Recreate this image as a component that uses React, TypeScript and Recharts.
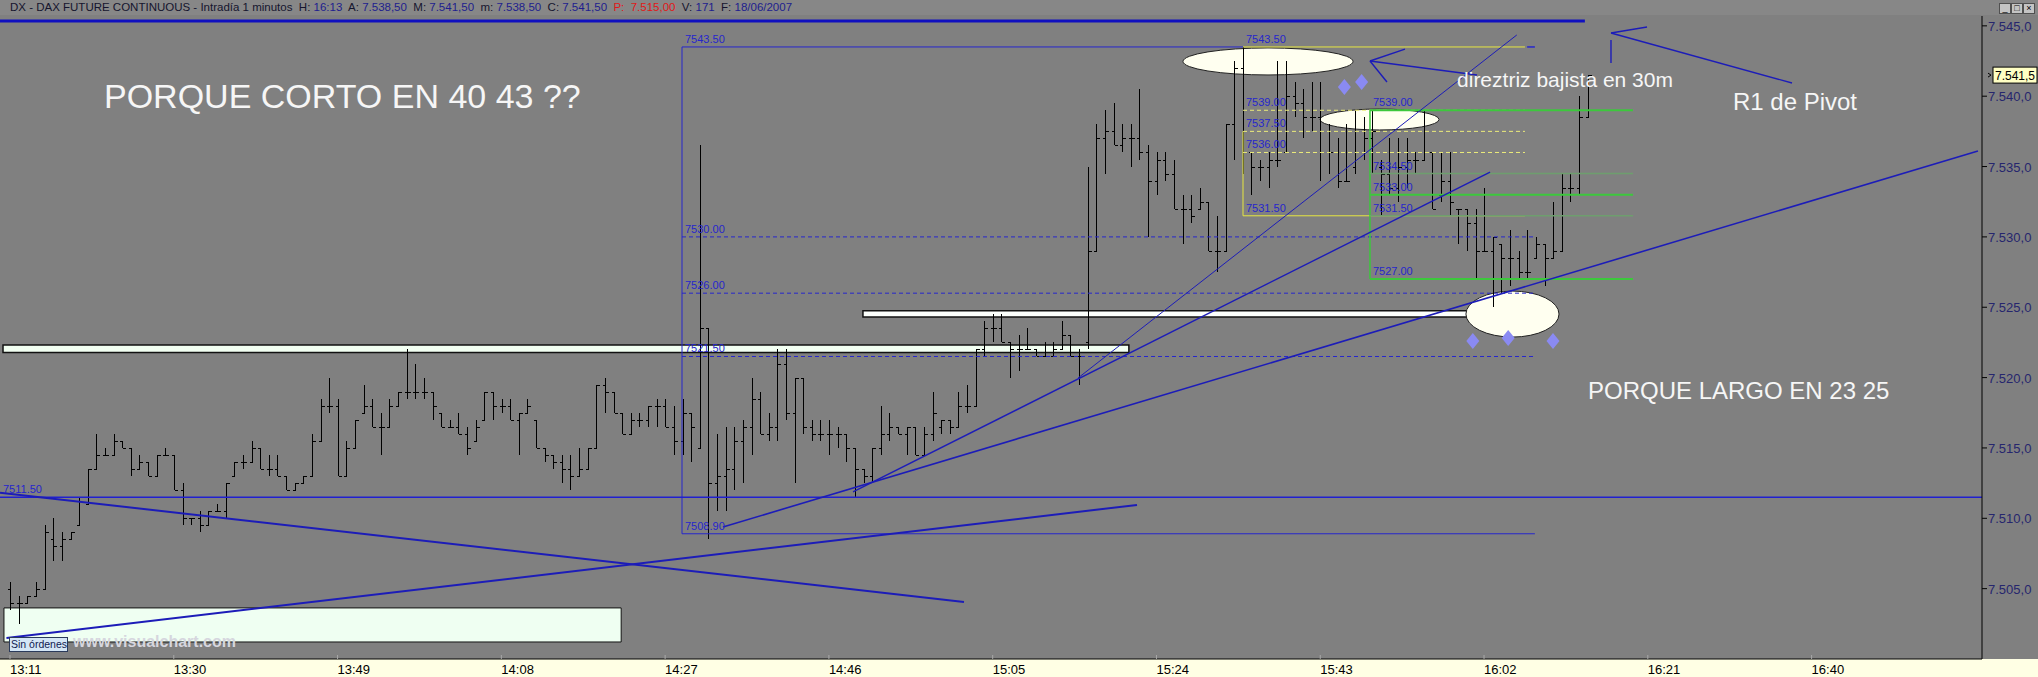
import React from "react";
import {
  ComposedChart,
  Bar,
  XAxis,
  YAxis,
  ReferenceLine,
  ReferenceArea,
  ReferenceDot,
} from "recharts";

// DAX future, 1-minute bars from 13:11 (minute 0) to 16:14
const OPEN = [
  7505, 7504, 7504, 7504.5, 7505, 7508.5, 7508, 7508.5, 7509.5, 7511, 7513.5, 7514.5, 7514.5, 7515.5, 7515, 7513.5, 7514, 7513, 7514.5, 7514.5,
  7512, 7510, 7510, 7509.5, 7510.5, 7510.5, 7513, 7514, 7514, 7515, 7513.5, 7513.5, 7513, 7512, 7512.5, 7513, 7515.5, 7518, 7518, 7513,
  7515, 7517.5, 7518, 7516.5, 7516.5, 7518, 7519, 7519, 7519, 7519, 7517.5, 7516.5, 7516.5, 7516, 7515.5, 7517, 7519, 7518, 7518, 7517,
  7517.5, 7517, 7515, 7514.5, 7514, 7513.5, 7513, 7513.5, 7515, 7519.5, 7519, 7517.5, 7516, 7517, 7517, 7518, 7518, 7516.5, 7515.5, 7517.5,
  7515, 7523.5, 7512.5, 7513, 7513.5, 7515.5, 7516.5, 7518.5, 7516, 7516.5, 7521, 7517.5, 7520, 7516.5, 7516, 7516, 7516, 7516, 7515, 7513.5,
  7513, 7515, 7516, 7516.5, 7516, 7516.5, 7514.5, 7516, 7516.5, 7517, 7516.5, 7518, 7518, 7522, 7523.5, 7523.5, 7522.5, 7522, 7522, 7522,
  7521.5, 7521.5, 7522, 7523, 7521.5, 7522.5, 7529, 7537, 7537.5, 7536.5, 7537, 7537, 7536, 7534, 7535.5, 7534.5, 7532, 7532, 7532, 7532.5,
  7529, 7529, 7538, 7542, 7536, 7535, 7535, 7535.5, 7536, 7540, 7539.5, 7538.5, 7538.5, 7536, 7536, 7534, 7535, 7536, 7537, 7535,
  7534.5, 7533.5, 7535, 7535.5, 7535.5, 7536, 7533, 7534, 7532, 7532, 7531, 7529, 7529, 7529.5, 7528.5, 7528.5, 7527.5, 7528.5, 7529.5, 7528.5,
  7529, 7533.5, 7533.5, 7538.5,
];
const HIGH = [
  7505.5, 7504.5, 7504.5, 7505.5, 7509.5, 7510, 7509, 7509, 7511.5, 7513.5, 7516, 7515, 7516, 7515.5, 7515, 7514.5, 7514, 7514.5, 7515, 7514.5,
  7512.5, 7510, 7510.5, 7510.5, 7511, 7512.5, 7514, 7514.5, 7515.5, 7515, 7514.5, 7514.5, 7513, 7512.5, 7513, 7516, 7518.5, 7520, 7518.5, 7515.5,
  7517, 7519.5, 7518.5, 7517.5, 7518.5, 7519, 7522, 7521, 7520, 7519, 7517.5, 7517, 7517.5, 7516.5, 7517, 7519, 7519, 7518.5, 7518.5, 7517.5,
  7518.5, 7517, 7515, 7514.5, 7514.5, 7514.5, 7515, 7515, 7519.5, 7520, 7519, 7517.5, 7517.5, 7517.5, 7518, 7518.5, 7518.5, 7518, 7518.5, 7517.5,
  7536.5, 7523.5, 7516, 7516.5, 7516.5, 7517, 7520, 7519, 7517.5, 7522, 7522, 7520, 7520, 7517, 7517, 7517, 7516.5, 7516, 7515, 7513.5,
  7515, 7518, 7517.5, 7516.5, 7516.5, 7516.5, 7516.5, 7519, 7517, 7517, 7519, 7519.5, 7522, 7524, 7524.5, 7524.5, 7522.5, 7523, 7523.5, 7522,
  7522.5, 7522.5, 7524, 7523, 7522, 7535, 7538, 7539, 7539.5, 7538, 7538, 7540.5, 7536.5, 7536, 7536, 7535.5, 7533, 7533, 7533.5, 7532.5,
  7531.5, 7538, 7542.5, 7543.5, 7536, 7535.5, 7536, 7542.5, 7542.5, 7541, 7540.5, 7541, 7541, 7538, 7537, 7538, 7539, 7538.5, 7539, 7535.5,
  7537, 7537, 7537, 7536, 7539, 7536, 7536, 7536, 7532, 7532, 7532, 7533.5, 7530, 7529.5, 7530.5, 7529, 7530.5, 7530, 7529.5, 7532.5,
  7534.5, 7534.5, 7540, 7541.5,
];
const LOW = [
  7503.5, 7502.5, 7504, 7504.5, 7505, 7507, 7507, 7508.5, 7509.5, 7511, 7513.5, 7514.5, 7514.5, 7515, 7513, 7513.5, 7513, 7513, 7514.5, 7512,
  7509.5, 7509.5, 7509, 7509.5, 7510.5, 7510, 7513, 7513.5, 7514, 7513.5, 7513, 7513, 7512, 7512, 7512.5, 7513, 7515.5, 7517.5, 7513, 7513,
  7515, 7517.5, 7516.5, 7514.5, 7516.5, 7518, 7518.5, 7518.5, 7518.5, 7517, 7516.5, 7516.5, 7516, 7514.5, 7515.5, 7517, 7517, 7517.5, 7517, 7514.5,
  7517.5, 7515, 7514, 7513.5, 7512.5, 7512, 7513, 7513.5, 7515, 7517.5, 7517.5, 7516, 7516, 7516.5, 7516.5, 7516.5, 7516.5, 7514.5, 7514.5, 7514,
  7515, 7508.5, 7510.5, 7510.5, 7512, 7512.5, 7514.5, 7516, 7515.5, 7515.5, 7517, 7512.5, 7516, 7515.5, 7515.5, 7514.5, 7515, 7514, 7511.5, 7512.5,
  7512.5, 7514.5, 7515.5, 7516, 7514.5, 7514.5, 7514.5, 7515.5, 7516, 7516, 7516.5, 7517.5, 7518, 7521.5, 7522.5, 7522.5, 7520, 7520.5, 7522, 7521.5,
  7521.5, 7521.5, 7522, 7521.5, 7519.5, 7522, 7529, 7534.5, 7536.5, 7536, 7535, 7535.5, 7530, 7533, 7534, 7532, 7529.5, 7531, 7532, 7529,
  7527.5, 7529, 7535.5, 7534.5, 7533, 7534, 7533.5, 7535, 7536, 7538.5, 7537, 7537.5, 7534, 7534.5, 7533.5, 7534, 7534.5, 7535.5, 7534.5, 7531.5,
  7533, 7532.5, 7533.5, 7534.5, 7535.5, 7532, 7532.5, 7531.5, 7529.5, 7529, 7527, 7529, 7525, 7526, 7526.5, 7527, 7527, 7528.5, 7526.5, 7528.5,
  7529, 7532.5, 7533, 7538.5,
];
const CLOSE = [
  7504, 7504, 7504.5, 7505, 7509, 7508, 7508.5, 7509, 7511.5, 7513.5, 7514.5, 7514.5, 7515.5, 7515, 7513.5, 7514, 7513, 7514.5, 7514.5, 7512,
  7510, 7510, 7509.5, 7510.5, 7510.5, 7512.5, 7514, 7514, 7515, 7513.5, 7513.5, 7513, 7512, 7512.5, 7513, 7515.5, 7518, 7518, 7513, 7515,
  7517, 7518, 7516.5, 7516.5, 7518, 7519, 7519, 7519, 7519, 7518, 7516.5, 7516.5, 7516, 7515, 7516.5, 7519, 7518, 7518, 7517, 7517.5,
  7518, 7515, 7514.5, 7514, 7513.5, 7513, 7513.5, 7515, 7519.5, 7519, 7517.5, 7516, 7517, 7517, 7518, 7518, 7516.5, 7515.5, 7517.5, 7516.5,
  7523.5, 7512.5, 7513, 7513.5, 7515.5, 7516.5, 7518.5, 7516, 7516.5, 7521, 7517.5, 7520, 7516.5, 7516, 7516, 7516, 7516, 7515, 7513.5, 7513,
  7515, 7516, 7516.5, 7516, 7516.5, 7514.5, 7516, 7517.5, 7517, 7516.5, 7518, 7518, 7522, 7523.5, 7523.5, 7522.5, 7522, 7522, 7522, 7521.5,
  7521.5, 7522, 7523, 7521.5, 7521.5, 7529, 7537, 7537.5, 7536.5, 7537, 7537, 7536, 7534, 7535.5, 7534.5, 7532, 7532, 7531.5, 7532.5, 7529,
  7529, 7538, 7542, 7536, 7535, 7535, 7535.5, 7535.5, 7540, 7539.5, 7538.5, 7538.5, 7536, 7536, 7534, 7534, 7536, 7537, 7537.5, 7534.5,
  7533.5, 7535, 7535.5, 7535.5, 7536, 7532, 7534, 7532.5, 7532, 7531, 7529, 7529, 7530, 7528.5, 7528.5, 7527.5, 7527.5, 7529.5, 7528.5, 7529,
  7533.5, 7533.5, 7538.5, 7541.5,
];

const LAST_CLOSE = 7541.5;

const TIME_TICK_MINUTES = [0, 19, 38, 57, 76, 95, 114, 133, 152, 171, 190, 209];
const TIME_LABELS = ["13:11", "13:30", "13:49", "14:08", "14:27", "14:46", "15:05", "15:24", "15:43", "16:02", "16:21", "16:40"];
const PRICE_TICKS = [7505, 7510, 7515, 7520, 7525, 7530, 7535, 7540, 7545];

// drawing tools, in (minute, price)
const TOP_LINE = [[-1.16, 7545.34], [182.7, 7545.34]];
const PIVOT_LEVEL = 7511.5;
const FALLING_LINE = [[-1.16, 7511.82], [110.67, 7504.05]];
const RISING_LINE = [[-0.41, 7501.5], [130.74, 7510.95]];
const LONG_TREND = [[82.71, 7509.38], [228.3, 7536.11]];
const STEEP_TREND = [[123.9, 7519.97], [174.8, 7544.35]];
const MID_TREND = [[97.8, 7511.87], [171.7, 7534.61]];
const ARROW_TREND = [[157.77, 7542.5], [170.19, 7541.51], [161.83, 7543.35], [159.74, 7541.01]];
const ARROW_PIVOT = [[185.73, 7544.49], [206.73, 7540.94], [189.91, 7544.92]];
const PIVOT_TICK = [[185.73, 7543.99], [185.73, 7542.36]];

// fibonacci retracements
const BLUE_FIB_X = [77.96, 143.04, 176.9];
const BLUE_FIB_LEVELS = [7543.5, 7530, 7526, 7521.5, 7508.9];
const YELLOW_FIB_X = [143.04, 175.75];
const YELLOW_FIB_LEVELS = [7543.5, 7539, 7537.5, 7536, 7531.5];
const GREEN_FIB_X = [157.77, 188.28];
const GREEN_FIB_LEVELS = [7539, 7534.5, 7533, 7531.5, 7527];

// highlighted zones: [m1, m2, p1, p2]
const OVALS = [
  [136.08, 155.8, 7543.43, 7541.51],
  [151.97, 165.78, 7539.09, 7537.6],
  [168.9, 179.7, 7526.15, 7522.88],
];
const BANDS = [
  [-0.81, 129.8, 7522.32, 7521.78],
  [98.95, 169.0, 7524.75, 7524.31],
];
const ORDERS_BOX = [-0.7, 70.9, 7503.63, 7501.21];
const DIAMONDS = [
  [154.8, 7540.65],
  [156.8, 7541.01],
  [169.7, 7522.6],
  [173.8, 7522.81],
  [179.0, 7522.6],
];
const NOTES = [
  { text: "PORQUE CORTO EN 40 43 ??", m: 10.9, p: 7539.16, size: 34 },
  { text: "PORQUE LARGO EN 23 25", m: 183.06, p: 7518.48, size: 24 },
  { text: "direztriz bajista en 30m", m: 167.87, p: 7540.65, size: 21 },
  { text: "R1 de Pivot", m: 199.88, p: 7539.02, size: 24 },
];

const FONT = "'Liberation Sans', Arial, sans-serif";
const BLUE = "#1c1cb8";
const FIB_BLUE = "#2626cc";

const rows = OPEN.map((o, i) => ({
  m: i,
  o,
  h: HIGH[i],
  l: LOW[i],
  c: CLOSE[i],
  range: [LOW[i], HIGH[i]],
}));

const fmtPrice = (v: number, dec: number) => {
  const [int, frac] = v.toFixed(dec).split(".");
  return `${int.slice(0, 1)}.${int.slice(1)},${frac}`;
};

function OhlcBar(props: any) {
  const { x, y, width, height, payload } = props;
  if (!payload) return null;
  const { o, h, l, c } = payload;
  const span = h - l || 1;
  const at = (v: number) => Math.round(y + ((h - v) / span) * height) + 0.5;
  const cx = Math.round(x + width / 2) + 0.5;
  return (
    <g stroke="#000" strokeWidth={1} shapeRendering="crispEdges">
      <line x1={cx} x2={cx} y1={y} y2={y + height} />
      <line x1={cx - 3} x2={cx} y1={at(o)} y2={at(o)} />
      <line x1={cx} x2={cx + 3} y1={at(c)} y2={at(c)} />
    </g>
  );
}

function PriceTick(props: any) {
  const { x, y, payload } = props;
  const v = payload.value;
  if (v === LAST_CLOSE) {
    return (
      <g>
        <path d={`M${x + 6},${y - 2} l3,2 l-3,2`} stroke="#000" fill="none" />
        <rect x={x + 11} y={y - 8} width={44} height={16} fill="#ffffc4" stroke="#000" />
        <text x={x + 13} y={y + 5} fontSize={12} fontFamily={FONT} fill="#000">
          {fmtPrice(v, 1)}
        </text>
      </g>
    );
  }
  return (
    <g>
      <line x1={x} x2={x + 5} y1={y} y2={y} stroke="#000" />
      <text x={x + 6} y={y + 5} fontSize={13} fontFamily={FONT} fill="#26266e">
        {fmtPrice(v, 1)}
      </text>
    </g>
  );
}

function TimeTick(props: any) {
  const { x, y, payload } = props;
  const idx = TIME_TICK_MINUTES.indexOf(payload.value);
  return (
    <g>
      <line x1={x} x2={x} y1={y - 4} y2={y} stroke="#a8a8a8" />
      <text x={x} y={y + 15} fontSize={13} fontFamily={FONT} fill="#000">
        {TIME_LABELS[idx]}
      </text>
    </g>
  );
}

const Oval = (p: any) => (
  <ellipse
    cx={p.x + p.width / 2}
    cy={p.y + p.height / 2}
    rx={Math.abs(p.width) / 2}
    ry={Math.abs(p.height) / 2}
    fill="#fffff0"
    stroke="#222"
    strokeWidth={1}
  />
);

const Diamond = (p: any) => (
  <polygon
    points={`${p.cx},${p.cy - 8} ${p.cx + 6.5},${p.cy} ${p.cx},${p.cy + 8} ${p.cx - 6.5},${p.cy}`}
    fill="#8a8af2"
  />
);

const levelLabel = (text: string, color: string) => (p: any) => (
  <text x={p.cx + 3} y={p.cy - 4} fill={color} fontSize={11} fontFamily={FONT}>
    {text}
  </text>
);

const segment = (pts: number[][], a: number, b: number) => [
  { x: pts[a][0], y: pts[a][1] },
  { x: pts[b][0], y: pts[b][1] },
];

function FibLevels({ xs, levels, color, dashed, solid, labelColor }: any) {
  return levels.map((lv: number, i: number) => {
    const isSolid = solid.includes(i);
    const to = xs[xs.length - 1];
    return [
      <ReferenceLine
        key={`l${i}`}
        segment={[{ x: xs[0], y: lv }, { x: to, y: lv }]}
        stroke={isSolid ? color : dashed}
        strokeDasharray={isSolid ? undefined : "4 3"}
        ifOverflow="visible"
      />,
      <ReferenceDot
        key={`t${i}`}
        x={xs[0]}
        y={lv}
        ifOverflow="visible"
        shape={levelLabel(lv.toFixed(2), labelColor)}
      />,
    ];
  });
}

export default function App() {
  return (
    <div
      style={{
        position: "absolute",
        left: 0,
        top: 0,
        width: 2038,
        height: 677,
        background: "#808080",
        overflow: "hidden",
        fontFamily: FONT,
      }}
    >
      <div style={{ position: "absolute", left: 0, top: 0, width: 2038, height: 15, background: "#878787" }} />
      <div
        style={{
          position: "absolute",
          left: 10,
          top: 1,
          fontSize: 11.5,
          whiteSpace: "pre",
          color: "#15152e",
          lineHeight: "13px",
        }}
      >
        {"DX - DAX FUTURE CONTINUOUS - Intradía 1 minutos  H: "}
        <span style={{ color: "#1e1e8e" }}>16:13</span>
        {"  A: "}
        <span style={{ color: "#1e1e8e" }}>7.538,50</span>
        {"  M: "}
        <span style={{ color: "#1e1e8e" }}>7.541,50</span>
        {"  m: "}
        <span style={{ color: "#1e1e8e" }}>7.538,50</span>
        {"  C: "}
        <span style={{ color: "#1e1e8e" }}>7.541,50</span>
        <span style={{ color: "#e01818" }}>{"  P:  7.515,00"}</span>
        {"  V: "}
        <span style={{ color: "#1e1e8e" }}>171</span>
        {"  F: "}
        <span style={{ color: "#1e1e8e" }}>18/06/2007</span>
      </div>
      <div style={{ position: "absolute", left: 0, top: 659, width: 2038, height: 18, background: "#ffffe4" }} />

      <div style={{ position: "absolute", left: 0, top: 0 }}>
        <ComposedChart width={2038} height={677} data={rows} margin={{ top: 16, right: 0, bottom: 0, left: 0 }}>
          <XAxis
            dataKey="m"
            type="number"
            domain={[-1.16, 228.77]}
            allowDataOverflow
            ticks={TIME_TICK_MINUTES}
            interval={0}
            height={18}
            tickSize={0}
            tickMargin={0}
            tickLine={false}
            axisLine={{ stroke: "#000" }}
            tick={<TimeTick />}
          />
          <YAxis
            orientation="right"
            width={56}
            type="number"
            domain={[7500, 7545.7]}
            allowDataOverflow
            ticks={[...PRICE_TICKS, LAST_CLOSE]}
            interval={0}
            tickSize={0}
            tickMargin={0}
            tickLine={false}
            axisLine={{ stroke: "#000" }}
            tick={<PriceTick />}
          />

          {/* zones under the bars */}
          <ReferenceArea
            x1={ORDERS_BOX[0]}
            x2={ORDERS_BOX[1]}
            y1={ORDERS_BOX[2]}
            y2={ORDERS_BOX[3]}
            fill="#effff2"
            fillOpacity={1}
            stroke="#111"
            ifOverflow="visible"
          />
          {BANDS.map((b, i) => (
            <ReferenceArea
              key={`band${i}`}
              x1={b[0]}
              x2={b[1]}
              y1={b[2]}
              y2={b[3]}
              fill={i === 0 ? "#f2fff2" : "#fcfffc"}
              fillOpacity={1}
              stroke="#111"
              strokeWidth={1.5}
              ifOverflow="visible"
            />
          ))}
          {OVALS.map((o, i) => (
            <ReferenceArea key={`oval${i}`} x1={o[0]} x2={o[1]} y1={o[2]} y2={o[3]} ifOverflow="visible" shape={Oval} />
          ))}

          <Bar dataKey="range" barSize={7} isAnimationActive={false} shape={<OhlcBar />} />

          {/* blue retracement box */}
          <ReferenceLine
            segment={[{ x: BLUE_FIB_X[0], y: BLUE_FIB_LEVELS[0] }, { x: BLUE_FIB_X[0], y: BLUE_FIB_LEVELS[4] }]}
            stroke={FIB_BLUE}
            ifOverflow="visible"
          />
          <ReferenceLine
            segment={[{ x: BLUE_FIB_X[0], y: BLUE_FIB_LEVELS[0] }, { x: BLUE_FIB_X[1], y: BLUE_FIB_LEVELS[0] }]}
            stroke={FIB_BLUE}
            ifOverflow="visible"
          />
          <ReferenceDot
            x={BLUE_FIB_X[0]}
            y={BLUE_FIB_LEVELS[0]}
            ifOverflow="visible"
            shape={levelLabel(BLUE_FIB_LEVELS[0].toFixed(2), FIB_BLUE)}
          />
          {FibLevels({
            xs: [BLUE_FIB_X[0], BLUE_FIB_X[2]],
            levels: BLUE_FIB_LEVELS.slice(1),
            color: FIB_BLUE,
            dashed: FIB_BLUE,
            solid: [3],
            labelColor: FIB_BLUE,
          })}

          {/* yellow retracement */}
          <ReferenceLine
            segment={[{ x: YELLOW_FIB_X[0], y: YELLOW_FIB_LEVELS[2] }, { x: YELLOW_FIB_X[0], y: YELLOW_FIB_LEVELS[4] }]}
            stroke="#e6e640"
            ifOverflow="visible"
          />
          {FibLevels({
            xs: YELLOW_FIB_X,
            levels: YELLOW_FIB_LEVELS,
            color: "#e6e640",
            dashed: "#ecec7a",
            solid: [0, 4],
            labelColor: FIB_BLUE,
          })}
          <ReferenceLine
            segment={[{ x: 176.0, y: 7543.5 }, { x: 176.9, y: 7543.5 }]}
            stroke={FIB_BLUE}
            strokeWidth={1.5}
            ifOverflow="visible"
          />

          {/* green retracement */}
          <ReferenceLine
            segment={[{ x: GREEN_FIB_X[0], y: GREEN_FIB_LEVELS[0] }, { x: GREEN_FIB_X[0], y: GREEN_FIB_LEVELS[4] }]}
            stroke="#3cc83c"
            strokeWidth={1.5}
            ifOverflow="visible"
          />
          {GREEN_FIB_LEVELS.map((lv, i) => (
            <ReferenceLine
              key={`g${i}`}
              segment={[{ x: GREEN_FIB_X[0], y: lv }, { x: GREEN_FIB_X[1], y: lv }]}
              stroke={i % 2 === 0 ? "#3cc83c" : "#6e9e6e"}
              strokeWidth={i % 2 === 0 ? 2 : 1.5}
              ifOverflow="visible"
            />
          ))}
          {GREEN_FIB_LEVELS.map((lv, i) => (
            <ReferenceDot
              key={`gt${i}`}
              x={GREEN_FIB_X[0]}
              y={lv}
              ifOverflow="visible"
              shape={levelLabel(lv.toFixed(2), FIB_BLUE)}
            />
          ))}

          {/* trend lines */}
          <ReferenceLine segment={segment(TOP_LINE, 0, 1)} stroke="#1010c0" strokeWidth={3} ifOverflow="visible" />
          <ReferenceLine y={PIVOT_LEVEL} stroke="#2020d0" strokeWidth={1.5} ifOverflow="visible" />
          <ReferenceDot x={-1.16} y={PIVOT_LEVEL} ifOverflow="visible" shape={levelLabel(PIVOT_LEVEL.toFixed(2), FIB_BLUE)} />
          <ReferenceLine segment={segment(FALLING_LINE, 0, 1)} stroke={BLUE} strokeWidth={2} ifOverflow="visible" />
          <ReferenceLine segment={segment(RISING_LINE, 0, 1)} stroke={BLUE} strokeWidth={2} ifOverflow="visible" />
          <ReferenceLine segment={segment(LONG_TREND, 0, 1)} stroke={BLUE} strokeWidth={1.6} ifOverflow="visible" />
          <ReferenceLine segment={segment(STEEP_TREND, 0, 1)} stroke={BLUE} strokeWidth={1} ifOverflow="visible" />
          <ReferenceLine segment={segment(MID_TREND, 0, 1)} stroke={BLUE} strokeWidth={1.4} ifOverflow="visible" />
          <ReferenceLine segment={segment(ARROW_TREND, 0, 1)} stroke={BLUE} strokeWidth={1.4} ifOverflow="visible" />
          <ReferenceLine segment={segment(ARROW_TREND, 0, 2)} stroke={BLUE} strokeWidth={1.4} ifOverflow="visible" />
          <ReferenceLine segment={segment(ARROW_TREND, 0, 3)} stroke={BLUE} strokeWidth={1.4} ifOverflow="visible" />
          <ReferenceLine segment={segment(ARROW_PIVOT, 0, 1)} stroke={BLUE} strokeWidth={1.4} ifOverflow="visible" />
          <ReferenceLine segment={segment(ARROW_PIVOT, 0, 2)} stroke={BLUE} strokeWidth={1.4} ifOverflow="visible" />
          <ReferenceLine segment={segment(PIVOT_TICK, 0, 1)} stroke={BLUE} strokeWidth={1.4} ifOverflow="visible" />

          {DIAMONDS.map((d, i) => (
            <ReferenceDot key={`d${i}`} x={d[0]} y={d[1]} ifOverflow="visible" shape={Diamond} />
          ))}
          {NOTES.map((n, i) => (
            <ReferenceDot
              key={`n${i}`}
              x={n.m}
              y={n.p}
              ifOverflow="visible"
              shape={(p: any) => (
                <text x={p.cx} y={p.cy} fill="#f6f6f6" fontSize={n.size} fontFamily={FONT}>
                  {n.text}
                </text>
              )}
            />
          ))}
        </ComposedChart>
      </div>

      {/* order panel caption and watermark */}
      <div
        style={{
          position: "absolute",
          left: 9,
          top: 637,
          width: 56,
          height: 13,
          background: "#d4e6f6",
          border: "1px solid #2a3a5a",
          fontSize: 10.5,
          lineHeight: "13px",
          color: "#102050",
          whiteSpace: "nowrap",
          overflow: "hidden",
          paddingLeft: 1,
        }}
      >
        Sin órdenes
      </div>
      <div
        style={{
          position: "absolute",
          left: 73,
          top: 633,
          fontSize: 16,
          fontWeight: 700,
          color: "#d6d6de",
          whiteSpace: "nowrap",
        }}
      >
        www.visualchart.com
      </div>

      {/* window buttons */}
      {["_", "□", "×"].map((g, i) => (
        <div
          key={g}
          style={{
            position: "absolute",
            left: 1999 + i * 12,
            top: 3,
            width: 10,
            height: 9,
            background: "#c4c4c4",
            border: "1px solid #505050",
            fontSize: 9,
            lineHeight: "9px",
            textAlign: "center",
            color: "#000",
          }}
        >
          {g}
        </div>
      ))}
    </div>
  );
}
